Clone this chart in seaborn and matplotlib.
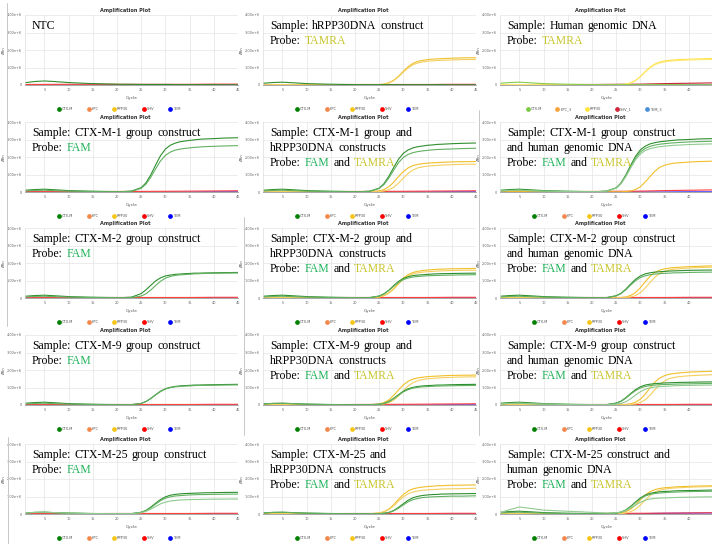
import numpy as np
import pandas as pd
import seaborn as sns
import matplotlib.pyplot as plt
from matplotlib.lines import Line2D

# cycle grids: dense one for amplified curves, coarse one for flat baselines
CYCLES = [1, 3, 5, 7, 10, 14, 18, 21, 23, 25, 26, 27, 28, 29, 30, 31, 32, 33, 34, 35, 36, 37, 38, 40, 42, 45]
BASE_CYCLES = [1, 10, 20, 30, 35, 40, 45]

# early cycles (1..21), values in units of 1e6 dRn
HUMP_NTC = [0.13, 0.20, 0.23, 0.20, 0.14, 0.09, 0.06, 0.04]
HUMP_A = [0.10, 0.14, 0.16, 0.13, 0.08, 0.05, 0.03, 0.02]
HUMP_B = [0.06, 0.09, 0.10, 0.08, 0.05, 0.03, 0.02, 0.02]
HUMP_BIG = [0.08, 0.25, 0.40, 0.33, 0.22, 0.17, 0.12, 0.08]
EARLY_Y = [0.01, 0.02, 0.02, 0.02, 0.01, 0.01, 0.01, 0.01]

# late cycles (23..45)
NTC_TAIL = [0.04, 0.03, 0.03, 0.03, 0.03, 0.03, 0.03, 0.03, 0.02, 0.02, 0.02, 0.02, 0.02, 0.02, 0.02, 0.02, 0.01, 0.01]
FLAT_TAIL = [0.02, 0.02, 0.02, 0.02, 0.02, 0.02, 0.02, 0.02, 0.02, 0.02, 0.02, 0.02, 0.02, 0.02, 0.02, 0.01, 0.01, 0.01]

P02_Y1 = [0.01, 0.02, 0.05, 0.13, 0.27, 0.50, 0.79, 1.05, 1.24, 1.35, 1.41, 1.45, 1.48, 1.49, 1.51, 1.53, 1.55, 1.56]
P02_Y2 = [0.01, 0.02, 0.05, 0.12, 0.25, 0.47, 0.74, 0.98, 1.16, 1.26, 1.32, 1.36, 1.38, 1.40, 1.41, 1.43, 1.45, 1.46]
P03_Y1 = [0.01, 0.01, 0.02, 0.05, 0.12, 0.26, 0.49, 0.76, 1.02, 1.20, 1.31, 1.37, 1.41, 1.43, 1.45, 1.47, 1.49, 1.51]
P03_Y2 = [0.01, 0.01, 0.02, 0.05, 0.12, 0.25, 0.47, 0.74, 0.98, 1.16, 1.26, 1.32, 1.36, 1.38, 1.40, 1.43, 1.44, 1.46]
P04_G1 = [0.05, 0.25, 0.53, 0.99, 1.55, 2.08, 2.45, 2.67, 2.79, 2.87, 2.91, 2.95, 2.98, 3.01, 3.03, 3.05, 3.08, 3.10]
P04_G2 = [0.04, 0.21, 0.45, 0.85, 1.33, 1.78, 2.09, 2.28, 2.39, 2.45, 2.49, 2.52, 2.55, 2.57, 2.59, 2.61, 2.63, 2.65]
P05_G1 = [0.04, 0.22, 0.48, 0.90, 1.40, 1.88, 2.21, 2.41, 2.52, 2.59, 2.63, 2.67, 2.69, 2.72, 2.73, 2.76, 2.78, 2.80]
P05_G2 = [0.04, 0.20, 0.43, 0.80, 1.25, 1.68, 1.98, 2.15, 2.25, 2.31, 2.35, 2.38, 2.41, 2.43, 2.44, 2.46, 2.48, 2.50]
P05_Y1 = [0.01, 0.06, 0.14, 0.30, 0.56, 0.88, 1.17, 1.38, 1.51, 1.58, 1.62, 1.65, 1.67, 1.68, 1.70, 1.72, 1.73, 1.74]
P05_Y2 = [0.01, 0.02, 0.06, 0.13, 0.27, 0.51, 0.80, 1.07, 1.26, 1.38, 1.44, 1.48, 1.50, 1.52, 1.54, 1.56, 1.58, 1.59]
P06_G1 = [0.05, 0.24, 0.52, 0.98, 1.53, 2.04, 2.41, 2.62, 2.75, 2.82, 2.87, 2.90, 2.93, 2.96, 2.98, 3.00, 3.03, 3.05]
P06_G2 = [0.04, 0.23, 0.49, 0.93, 1.45, 1.94, 2.29, 2.49, 2.61, 2.68, 2.73, 2.76, 2.79, 2.81, 2.83, 2.86, 2.88, 2.90]
P06_G3 = [0.04, 0.22, 0.47, 0.88, 1.38, 1.84, 2.17, 2.37, 2.48, 2.54, 2.59, 2.62, 2.65, 2.67, 2.68, 2.71, 2.73, 2.75]
P06_Y1 = [0.01, 0.01, 0.01, 0.03, 0.06, 0.14, 0.30, 0.57, 0.89, 1.19, 1.41, 1.53, 1.60, 1.65, 1.67, 1.71, 1.74, 1.76]
P07_G1 = [0.05, 0.25, 0.47, 0.73, 0.98, 1.15, 1.26, 1.31, 1.35, 1.37, 1.39, 1.40, 1.42, 1.42, 1.43, 1.44, 1.45, 1.46]
P07_G2 = [0.02, 0.11, 0.24, 0.46, 0.72, 0.96, 1.13, 1.23, 1.29, 1.32, 1.34, 1.36, 1.38, 1.39, 1.40, 1.41, 1.42, 1.43]
P08_G1 = [0.02, 0.11, 0.24, 0.45, 0.71, 0.95, 1.12, 1.22, 1.28, 1.31, 1.33, 1.35, 1.37, 1.38, 1.39, 1.40, 1.41, 1.42]
P08_G2 = [0.02, 0.11, 0.23, 0.43, 0.67, 0.89, 1.05, 1.14, 1.20, 1.23, 1.25, 1.27, 1.28, 1.29, 1.30, 1.31, 1.32, 1.33]
P08_Y1 = [0.01, 0.06, 0.14, 0.29, 0.54, 0.85, 1.14, 1.34, 1.46, 1.53, 1.57, 1.60, 1.62, 1.64, 1.65, 1.67, 1.68, 1.69]
P08_Y2 = [0.01, 0.06, 0.13, 0.27, 0.51, 0.80, 1.07, 1.26, 1.38, 1.44, 1.48, 1.50, 1.52, 1.54, 1.55, 1.57, 1.58, 1.59]
P09_G1 = [0.02, 0.13, 0.27, 0.51, 0.80, 1.07, 1.26, 1.38, 1.44, 1.48, 1.50, 1.52, 1.54, 1.55, 1.56, 1.58, 1.59, 1.60]
P09_G2 = [0.02, 0.12, 0.25, 0.47, 0.74, 0.99, 1.17, 1.27, 1.33, 1.37, 1.39, 1.41, 1.42, 1.44, 1.44, 1.46, 1.47, 1.48]
P09_Y1 = [0.01, 0.01, 0.03, 0.06, 0.15, 0.31, 0.59, 0.93, 1.24, 1.46, 1.59, 1.67, 1.71, 1.74, 1.76, 1.79, 1.81, 1.84]
P09_Y2 = [0.01, 0.01, 0.01, 0.03, 0.06, 0.14, 0.30, 0.57, 0.89, 1.19, 1.41, 1.53, 1.60, 1.65, 1.67, 1.71, 1.74, 1.76]
P10_G1 = [0.02, 0.09, 0.20, 0.38, 0.59, 0.79, 0.93, 1.01, 1.06, 1.09, 1.11, 1.12, 1.14, 1.14, 1.15, 1.16, 1.17, 1.18]
P10_G2 = [0.02, 0.09, 0.20, 0.37, 0.58, 0.77, 0.91, 0.99, 1.04, 1.06, 1.08, 1.09, 1.11, 1.12, 1.12, 1.13, 1.14, 1.15]
P11_G1 = [0.02, 0.04, 0.09, 0.20, 0.38, 0.59, 0.79, 0.93, 1.01, 1.06, 1.09, 1.11, 1.12, 1.14, 1.14, 1.16, 1.17, 1.18]
P11_G2 = [0.02, 0.04, 0.09, 0.19, 0.36, 0.56, 0.75, 0.88, 0.96, 1.01, 1.04, 1.05, 1.07, 1.08, 1.09, 1.10, 1.11, 1.12]
P11_Y1 = [0.01, 0.06, 0.14, 0.29, 0.55, 0.86, 1.15, 1.36, 1.48, 1.55, 1.59, 1.62, 1.64, 1.65, 1.67, 1.69, 1.70, 1.71]
P11_Y2 = [0.01, 0.02, 0.06, 0.13, 0.28, 0.52, 0.81, 1.09, 1.28, 1.39, 1.46, 1.50, 1.52, 1.54, 1.56, 1.58, 1.60, 1.61]
P12_G1 = [0.02, 0.11, 0.22, 0.42, 0.66, 0.88, 1.04, 1.14, 1.19, 1.22, 1.24, 1.26, 1.27, 1.28, 1.29, 1.30, 1.31, 1.32]
P12_G2 = [0.02, 0.10, 0.21, 0.39, 0.62, 0.82, 0.97, 1.06, 1.11, 1.14, 1.16, 1.17, 1.18, 1.19, 1.20, 1.21, 1.22, 1.23]
P12_G3 = [0.02, 0.04, 0.09, 0.19, 0.36, 0.57, 0.76, 0.90, 0.98, 1.03, 1.05, 1.07, 1.08, 1.10, 1.11, 1.12, 1.13, 1.14]
P12_Y1 = [0.01, 0.01, 0.01, 0.03, 0.07, 0.16, 0.33, 0.62, 0.98, 1.31, 1.54, 1.68, 1.76, 1.80, 1.83, 1.88, 1.90, 1.93]
P12_Y2 = [0.01, 0.01, 0.01, 0.01, 0.03, 0.06, 0.14, 0.30, 0.56, 0.88, 1.17, 1.38, 1.51, 1.58, 1.62, 1.67, 1.70, 1.73]
P13_G1 = [0.02, 0.10, 0.21, 0.40, 0.62, 0.83, 0.98, 1.07, 1.12, 1.15, 1.17, 1.18, 1.19, 1.20, 1.21, 1.22, 1.23, 1.24]
P13_G2 = [0.02, 0.09, 0.19, 0.36, 0.57, 0.76, 0.90, 0.98, 1.03, 1.05, 1.07, 1.09, 1.10, 1.11, 1.11, 1.12, 1.13, 1.14]
P13_G3 = [0.02, 0.07, 0.15, 0.28, 0.43, 0.58, 0.68, 0.74, 0.77, 0.80, 0.81, 0.82, 0.83, 0.83, 0.84, 0.85, 0.85, 0.86]
P14_G1 = [0.02, 0.02, 0.04, 0.09, 0.20, 0.38, 0.59, 0.79, 0.93, 1.01, 1.06, 1.09, 1.11, 1.12, 1.14, 1.15, 1.16, 1.17]
P14_G2 = [0.02, 0.02, 0.04, 0.08, 0.18, 0.33, 0.52, 0.70, 0.82, 0.89, 0.94, 0.96, 0.98, 0.99, 1.00, 1.02, 1.02, 1.04]
P14_Y1 = [0.01, 0.06, 0.13, 0.28, 0.53, 0.84, 1.12, 1.32, 1.44, 1.50, 1.54, 1.57, 1.59, 1.61, 1.62, 1.64, 1.65, 1.66]
P14_Y2 = [0.01, 0.05, 0.12, 0.25, 0.47, 0.74, 0.98, 1.16, 1.26, 1.32, 1.36, 1.38, 1.40, 1.41, 1.43, 1.44, 1.45, 1.47]
P15_G1 = [0.02, 0.05, 0.11, 0.23, 0.44, 0.69, 0.92, 1.08, 1.18, 1.23, 1.27, 1.29, 1.30, 1.32, 1.33, 1.34, 1.35, 1.37]
P15_G2 = [0.02, 0.05, 0.10, 0.22, 0.42, 0.65, 0.87, 1.03, 1.12, 1.17, 1.20, 1.22, 1.24, 1.25, 1.26, 1.28, 1.29, 1.30]
P15_G3 = [0.06, 0.07, 0.11, 0.19, 0.34, 0.51, 0.67, 0.79, 0.86, 0.89, 0.91, 0.92, 0.93, 0.94, 0.95, 0.96, 0.97, 0.98]
P15_Y1 = [0.01, 0.02, 0.06, 0.13, 0.28, 0.52, 0.81, 1.09, 1.28, 1.39, 1.46, 1.50, 1.52, 1.54, 1.56, 1.58, 1.60, 1.61]
P15_Y2 = [0.01, 0.01, 0.02, 0.06, 0.13, 0.27, 0.51, 0.79, 1.06, 1.25, 1.36, 1.42, 1.46, 1.49, 1.50, 1.53, 1.55, 1.57]

# flat baselines on BASE_CYCLES
RPP30_FLAT = [0.01, 0.01, 0.01, 0.01, 0.01, 0.01, 0.01]
KPC_FLAT = [0.01, 0.01, 0.01, 0.01, 0.01, 0.01, 0.01]
TEM_FLAT = [0.00, 0.00, 0.00, 0.00, 0.00, 0.01, 0.01]
TEM_DRIFT = [0.00, 0.00, 0.01, 0.02, 0.04, 0.05, 0.06]
SHV_FLAT = [0.02, 0.02, 0.03, 0.03, 0.03, 0.04, 0.04]
SHV_NTC = [0.03, 0.04, 0.04, 0.04, 0.04, 0.05, 0.05]
SHV_LOW = [0.02, 0.02, 0.03, 0.04, 0.05, 0.06, 0.07]
SHV_DRIFT = [0.02, 0.02, 0.03, 0.05, 0.08, 0.10, 0.12]

TARGETS = ['KPC', 'TEM', 'SHV', 'RPP30', 'CTX-M']
LEGEND_LABELS = ['CTX-M', 'KPC', 'RPP30', 'SHV', 'TEM']
LEGEND_LABELS_ALT = ['CTX-M', 'KPC_3', 'RPP30', 'SHV_1', 'TEM_3']
X_TICKS = [5, 10, 15, 20, 25, 30, 35, 40, 45]
Y_TICKS = [0, 1e6, 2e6, 3e6, 4e6]
Y_TICK_LABELS = ['0', '1.00e+6', '2.00e+6', '3.00e+6', '4.00e+6']

PANELS = [
    dict(text=['NTC'], ctxm=[HUMP_NTC + NTC_TAIL], rpp=[RPP30_FLAT], shv=SHV_NTC, tem=TEM_FLAT),
    dict(text=['Sample: hRPP30DNA construct', 'Probe: TAMRA'],
         ctxm=[HUMP_A + FLAT_TAIL], rpp=[EARLY_Y + P02_Y1, EARLY_Y + P02_Y2], shv=SHV_FLAT, tem=TEM_FLAT),
    dict(text=['Sample: Human genomic DNA', 'Probe: TAMRA'], alt=True,
         ctxm=[HUMP_A + FLAT_TAIL], rpp=[EARLY_Y + P03_Y1, EARLY_Y + P03_Y2], shv=SHV_DRIFT, tem=TEM_FLAT),
    dict(text=['Sample: CTX-M-1 group construct', 'Probe: FAM'],
         ctxm=[HUMP_A + P04_G1, HUMP_B + P04_G2], rpp=[RPP30_FLAT], shv=SHV_LOW, tem=TEM_FLAT),
    dict(text=['Sample: CTX-M-1 group and', 'hRPP30DNA constructs', 'Probe: FAM and TAMRA'],
         ctxm=[HUMP_A + P05_G1, HUMP_B + P05_G2], rpp=[EARLY_Y + P05_Y1, EARLY_Y + P05_Y2], shv=SHV_LOW, tem=TEM_FLAT),
    dict(text=['Sample: CTX-M-1 group construct', 'and human genomic DNA', 'Probe: FAM and TAMRA'],
         ctxm=[HUMP_A + P06_G1, HUMP_B + P06_G2, HUMP_B + P06_G3], rpp=[EARLY_Y + P06_Y1], shv=SHV_DRIFT, tem=TEM_FLAT),
    dict(text=['Sample: CTX-M-2 group construct', 'Probe: FAM'],
         ctxm=[HUMP_A + P07_G1, HUMP_B + P07_G2], rpp=[RPP30_FLAT], shv=SHV_FLAT, tem=TEM_FLAT),
    dict(text=['Sample: CTX-M-2 group and', 'hRPP30DNA constructs', 'Probe: FAM and TAMRA'],
         ctxm=[HUMP_A + P08_G1, HUMP_B + P08_G2], rpp=[EARLY_Y + P08_Y1, EARLY_Y + P08_Y2], shv=SHV_FLAT, tem=TEM_FLAT),
    dict(text=['Sample: CTX-M-2 group construct', 'and human genomic DNA', 'Probe: FAM and TAMRA'],
         ctxm=[HUMP_A + P09_G1, HUMP_B + P09_G2], rpp=[EARLY_Y + P09_Y1, EARLY_Y + P09_Y2], shv=SHV_FLAT, tem=TEM_FLAT),
    dict(text=['Sample: CTX-M-9 group construct', 'Probe: FAM'],
         ctxm=[HUMP_A + P10_G1, HUMP_B + P10_G2], rpp=[RPP30_FLAT], shv=SHV_FLAT, tem=TEM_FLAT),
    dict(text=['Sample: CTX-M-9 group and', 'hRPP30DNA constructs', 'Probe: FAM and TAMRA'],
         ctxm=[HUMP_B + P11_G1, HUMP_B + P11_G2], rpp=[EARLY_Y + P11_Y1, EARLY_Y + P11_Y2], shv=SHV_LOW, tem=TEM_FLAT),
    dict(text=['Sample: CTX-M-9 group construct', 'and human genomic DNA', 'Probe: FAM and TAMRA'],
         ctxm=[HUMP_A + P12_G1, HUMP_B + P12_G2, HUMP_B + P12_G3], rpp=[EARLY_Y + P12_Y1, EARLY_Y + P12_Y2], shv=SHV_FLAT, tem=TEM_FLAT),
    dict(text=['Sample: CTX-M-25 group construct', 'Probe: FAM'],
         ctxm=[HUMP_B + P13_G1, HUMP_B + P13_G2, HUMP_B + P13_G3], rpp=[RPP30_FLAT], shv=SHV_FLAT, tem=TEM_FLAT),
    dict(text=['Sample: CTX-M-25 and', 'hRPP30DNA constructs', 'Probe: FAM and TAMRA'],
         ctxm=[HUMP_B + P14_G1, HUMP_B + P14_G2], rpp=[EARLY_Y + P14_Y1, EARLY_Y + P14_Y2], shv=SHV_FLAT, tem=TEM_FLAT),
    dict(text=['Sample: CTX-M-25 construct and', 'human genomic DNA', 'Probe: FAM and TAMRA'],
         ctxm=[HUMP_A + P15_G1, HUMP_B + P15_G2, HUMP_BIG + P15_G3], rpp=[EARLY_Y + P15_Y1, EARLY_Y + P15_Y2], shv=SHV_LOW, tem=TEM_DRIFT),
]

# colours
GREENS = ['#2f8f2f', '#62b062', '#8fca8f']
YELLOWS = ['#f0bf2a', '#f4cf60', '#f7dc8c']
GREENS_ALT = ['#86cc4a', '#a6da78', '#bfe59c']
YELLOWS_ALT = ['#ffe03a', '#ffe977', '#fff0a0']
LINE_COL = {'SHV': '#ff3d3d', 'TEM': '#3030ff', 'KPC': '#f4a261'}
LINE_COL_ALT = {'SHV': '#c8263a', 'TEM': '#4a8fdc', 'KPC': '#f7a23b'}
LEG_COL = ['#008000', '#f4874b', '#f5c518', '#ff0000', '#0000ff']
LEG_COL_ALT = ['#7ac943', '#f7a23b', '#ffe43a', '#d0263a', '#4a90d9']
FAM_COL = '#1fb25a'
TAMRA_COL = '#c9c52e'

# long table
rows = []
for i, p in enumerate(PANELS):
    series = {'KPC': [KPC_FLAT], 'TEM': [p['tem']], 'SHV': [p['shv']], 'RPP30': p['rpp'], 'CTX-M': p['ctxm']}
    for target in TARGETS:
        for r, vals in enumerate(series[target]):
            xs = CYCLES if len(vals) == len(CYCLES) else BASE_CYCLES
            for x, v in zip(xs, vals):
                rows.append((i, f'{target}#{r}', target, r, x, v * 1e6))
df = pd.DataFrame(rows, columns=['panel', 'key', 'target', 'rep', 'cycle', 'drn'])

sns.set_theme(style='white')
plt.rcParams['font.family'] = ['DejaVu Sans']

W, H = 712, 544
COL_LEFT = [25, 263, 500]
ROW_TOP = [15, 122, 228, 335, 444]
AX_W, AX_H = 213, 70
GAP = 2.8

fig = plt.figure(figsize=(W / 100, H / 100), dpi=100)
fig.patch.set_facecolor('white')


def draw_line_words(ax, y, line):
    prev = None
    for word in line.split(' '):
        col = FAM_COL if word == 'FAM' else TAMRA_COL if word == 'TAMRA' else 'black'
        kw = dict(fontsize=8.5, color=col, family='Liberation Serif')
        if prev is None:
            prev = ax.text(0.033, y, word, transform=ax.transAxes, ha='left', va='center', **kw)
        else:
            prev = ax.annotate(word, xy=(1, 0), xycoords=prev, xytext=(GAP, 0),
                               textcoords='offset points', ha='left', va='bottom', **kw)


for i, p in enumerate(PANELS):
    r, c = divmod(i, 3)
    ax = fig.add_axes([COL_LEFT[c] / W, 1 - (ROW_TOP[r] + AX_H) / H, AX_W / W, AX_H / H])
    alt = p.get('alt', False)
    greens = GREENS_ALT if alt else GREENS
    yellows = YELLOWS_ALT if alt else YELLOWS
    lc = LINE_COL_ALT if alt else LINE_COL

    sub = df[df.panel == i]
    keys = list(dict.fromkeys(sub['key']))
    pal = {}
    for k in keys:
        t, rep = k.split('#')
        rep = int(rep)
        if t == 'CTX-M':
            pal[k] = greens[rep]
        elif t == 'RPP30':
            pal[k] = yellows[rep]
        else:
            pal[k] = lc[t]
    sns.lineplot(data=sub, x='cycle', y='drn', hue='key', hue_order=keys, palette=pal,
                 estimator=None, legend=False, linewidth=0.8, ax=ax)

    ax.set_xlim(1, 45)
    ax.set_ylim(0, 4e6)
    ax.set_xticks(X_TICKS)
    # the right-hand column is cropped before its last tick label
    ax.set_xticklabels([str(t) if (c < 2 or t < 45) else '' for t in X_TICKS])
    ax.set_yticks(Y_TICKS)
    ax.set_yticklabels(Y_TICK_LABELS)
    ax.grid(True, color='#e4e4e4', linewidth=0.5)
    ax.tick_params(labelsize=2.5, colors='#666666', length=0, pad=2)
    for s in ['top', 'right']:
        ax.spines[s].set_visible(False)
    ax.spines['bottom'].set_color('#999999')
    ax.spines['bottom'].set_linewidth(0.6)
    ax.spines['left'].set_color('#dddddd')
    ax.spines['left'].set_linewidth(0.5)
    ax.set_title('Amplification Plot', fontsize=3.6, fontweight='bold', color='#333333', pad=2, x=0.47)
    ax.set_xlabel('Cycle', fontsize=3.2, color='#555555', labelpad=3)
    ax.set_ylabel('ΔRn', fontsize=2.8, color='#555555', labelpad=1)

    labels = LEGEND_LABELS_ALT if alt else LEGEND_LABELS
    colors = LEG_COL_ALT if alt else LEG_COL
    handles = [Line2D([], [], marker='o', ls='', color=cc, markersize=2.4, label=l)
               for l, cc in zip(labels, colors)]
    leg = ax.legend(handles=handles, loc='center', bbox_to_anchor=(0.44, -0.345), ncol=5,
                    frameon=False, fontsize=2.6, handlelength=0.8, handletextpad=0.4,
                    columnspacing=3.9, borderaxespad=0)
    for t in leg.get_texts():
        t.set_color('#555555')

    for j, line in enumerate(p['text']):
        draw_line_words(ax, 1 - (11 + 15 * j) / AX_H, line)

# screenshot borders
for x0, y0, y1 in [(7, 3, 326), (8, 437, 544), (244, 217, 435), (479, 110, 435)]:
    fig.add_artist(Line2D([x0 / W, x0 / W], [1 - y0 / H, 1 - y1 / H], color='#c8c8c8', linewidth=0.7))

fig.savefig('out.png', dpi=100)
